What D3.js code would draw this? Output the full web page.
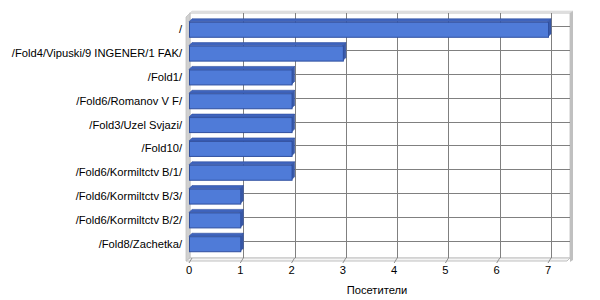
<!DOCTYPE html>
<html>
<head>
<meta charset="utf-8">
<script src="https://cdn.jsdelivr.net/npm/d3@7"></script>
<style>
  body { margin: 0; background: #fff; }
  svg { display: block; font-family: "Liberation Sans", Arial, sans-serif; font-size: 11.2px; }
</style>
</head>
<body>
<div id="chart"></div>
<script>
// Visitors per folder (horizontal 3D-ish bar chart)
const categories = [
  "/", "/Fold4/Vipuski/9 INGENER/1 FAK/", "/Fold1/", "/Fold6/Romanov V F/",
  "/Fold3/Uzel Svjazi/", "/Fold10/", "/Fold6/Kormiltctv B/1/",
  "/Fold6/Kormiltctv B/3/", "/Fold6/Kormiltctv B/2/", "/Fold8/Zachetka/"
];
const visitors = [7, 3, 2, 2, 2, 2, 2, 1, 1, 1];
const xTicks = [0, 1, 2, 3, 4, 5, 6, 7];
const xTitle = "Посетители";

(function() {
  const W = 600, H = 300;
  const depth = 3;              // 3D offset of the back plane
  const front = { left: 186, right: 567, top: 17, bottom: 261 };

  const svg = d3.select("#chart").append("svg")
    .attr("width", W).attr("height", H);

  const x = d3.scaleLinear().domain([0, 7]).range([189, 548]);
  const y = d3.scaleBand().domain(categories).range([17, 256]).paddingInner(0.37).paddingOuter(0.2);
  const cy = d => y(d) + y.bandwidth() / 2;

  const bl = front.left + depth + 1, br = front.right + depth,
        bt = front.top - depth - 1, bb = front.bottom - depth;

  // Back wall
  svg.append("rect").attr("x", bl).attr("y", bt).attr("width", br - bl).attr("height", bb - bt)
    .attr("fill", "#fff").attr("stroke", "#c8c8c8");
  // wall thickness: top and right edges
  svg.append("polygon")
    .attr("points", [[bl, bt], [bl + 2, bt - 2], [br + 3, bt - 2], [br, bt]].join(" "))
    .attr("fill", "#e2e2e2").attr("stroke", "#d0d0d0").attr("stroke-width", 0.5);
  svg.append("polygon")
    .attr("points", [[br, bt], [br + 3, bt - 2], [br + 3, front.bottom - 1], [br, front.bottom + 1]].join(" "))
    .attr("fill", "#c0c0c0");

  // Left wall
  svg.append("polygon")
    .attr("points", [[front.left, front.top], [bl, bt], [bl, bb], [front.left, front.bottom]].join(" "))
    .attr("fill", "#d0d0d0").attr("stroke", "#c0c0c0").attr("stroke-width", 0.8);

  // Floor
  svg.append("polygon")
    .attr("points", [[front.left, front.bottom], [bl, bb], [br, bb], [front.right, front.bottom]].join(" "))
    .attr("fill", "#f4f4f4").attr("stroke", "#c0c0c0");

  // Grid lines on back wall
  svg.append("g").selectAll("line").data(xTicks.slice(1)).join("line")
    .attr("x1", d => Math.round(x(d) + depth) + 0.5).attr("x2", d => Math.round(x(d) + depth) + 0.5)
    .attr("y1", bt).attr("y2", bb)
    .attr("stroke", "#808080");
  svg.append("g").selectAll("line").data(categories).join("line")
    .attr("x1", bl).attr("x2", br)
    .attr("y1", d => Math.round(cy(d) - depth) + 0.5).attr("y2", d => Math.round(cy(d) - depth) + 0.5)
    .attr("stroke", "#808080");

  // Floor ticks
  svg.append("g").selectAll("line").data(xTicks).join("line")
    .attr("x1", d => x(d) + depth).attr("y1", bb)
    .attr("x2", d => x(d)).attr("y2", front.bottom + 2)
    .attr("stroke", "#909090");

  // Bars
  const bars = svg.append("g").selectAll("g").data(categories).join("g");
  bars.each(function(c, i) {
    const g = d3.select(this);
    const x0 = x(0), x1 = x(visitors[i]);
    const t = y(c), b = y(c) + y.bandwidth();
    g.append("polygon")
      .attr("points", [[x0, t], [x0 + depth, t - depth], [x1 + depth, t - depth], [x1, t]].join(" "))
      .attr("fill", "#3f64bd").attr("stroke", "#2f4f9f").attr("stroke-width", 0.6);
    g.append("polygon")
      .attr("points", [[x1, t], [x1 + depth, t - depth], [x1 + depth, b - depth], [x1, b]].join(" "))
      .attr("fill", "#3a5aa8").attr("stroke", "#2f4f9f").attr("stroke-width", 0.6);
    g.append("rect")
      .attr("x", x0 + 0.5).attr("y", t + 0.5).attr("width", x1 - x0).attr("height", b - t)
      .attr("fill", "#4f7bd8").attr("stroke", "#2f4f9f");
  });

  // Category labels
  svg.append("g").selectAll("text").data(categories).join("text")
    .attr("x", 182).attr("y", d => cy(d)).attr("dy", "0.35em")
    .attr("text-anchor", "end").attr("fill", "#000").text(d => d);

  // X tick labels
  svg.append("g").selectAll("text").data(xTicks).join("text")
    .attr("x", d => x(d)).attr("y", 274)
    .attr("text-anchor", "middle").attr("fill", "#000").text(d => d);

  svg.append("text").attr("x", 377).attr("y", 294)
    .attr("text-anchor", "middle").attr("fill", "#000").text(xTitle);
})();
</script>
</body>
</html>
